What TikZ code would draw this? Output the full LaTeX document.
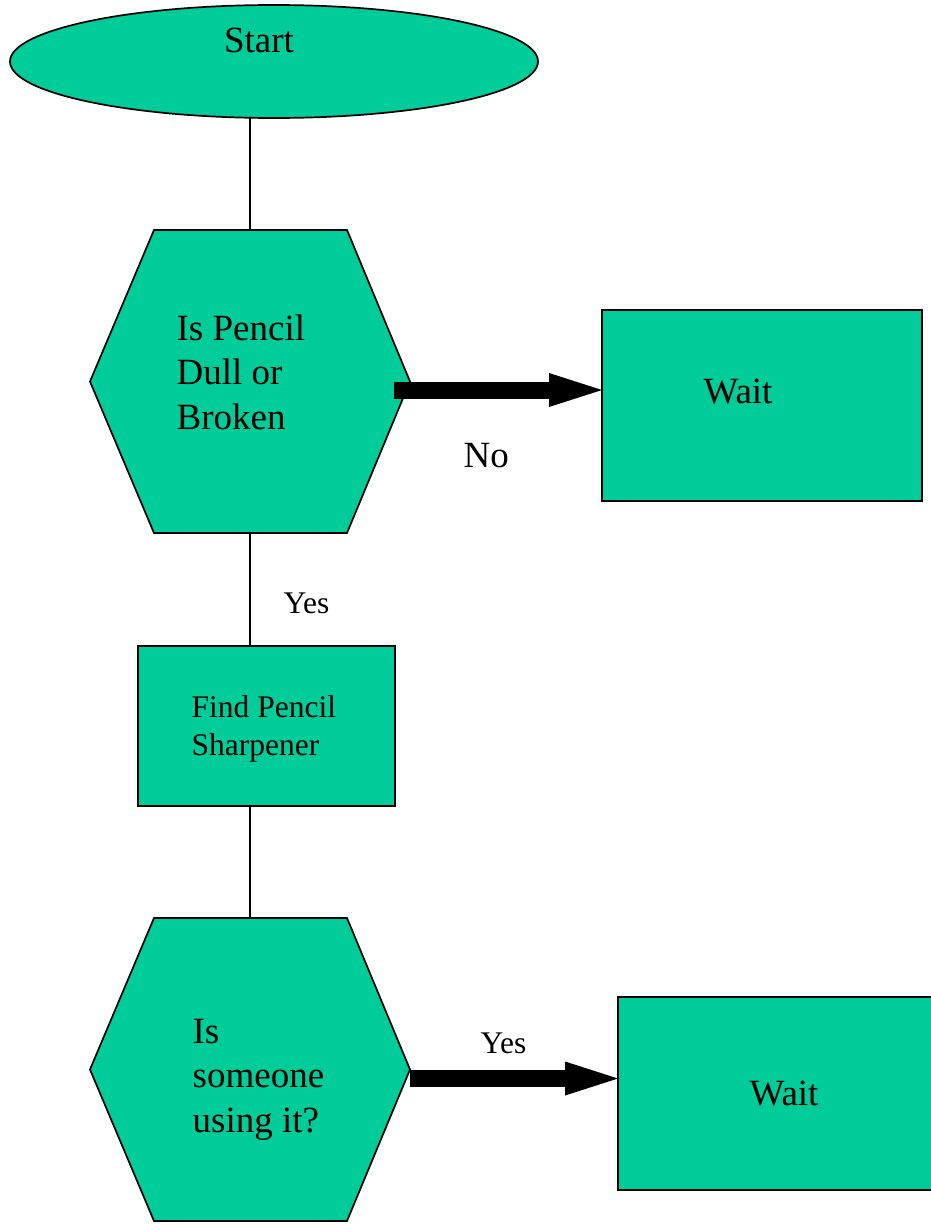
\documentclass[tikz,border=0pt]{standalone}
\usepackage{fontspec}
\setmainfont{Liberation Serif}
\usetikzlibrary{shapes.geometric,arrows.meta,positioning,calc}
\definecolor{flowgreen}{RGB}{0,204,153}

\begin{document}
\begin{tikzpicture}[x=1pt,y=-1pt,line width=1.3pt,
    main node/.style={draw=black,fill=flowgreen,line width=1.7pt,inner sep=0pt,outer sep=0pt},
    hex node/.style={rectangle,inner sep=0pt,outer sep=0pt,minimum width=320pt,minimum height=303pt},
    big text/.style={font={\fontsize{37}{44.5}\selectfont},inner sep=0pt},
    small text/.style={font={\fontsize{31.5}{38}\selectfont},inner sep=0pt},
    big arrow/.style={line width=17pt,-{Triangle[length=53pt,width=34pt,line width=0pt]}}]

            \useasboundingbox (0,0) rectangle (931,1226);
            \clip (0,0) rectangle (931,1226);

            % start
            \node[main node,ellipse,minimum width=528pt,minimum height=113pt] (start) at (274,61.5) {};
            \node[big text,anchor=base] (startlbl) at (259,52) {Start};

            % first question
            \node[hex node] (q1) at (250,381.5) {};
            \draw[main node] (q1.west) -- ($(q1.north west)+(64,0)$) -- ($(q1.north east)+(-63,0)$)
                -- (q1.east) -- ($(q1.south east)+(-63,0)$) -- ($(q1.south west)+(64,0)$) -- cycle;
            \node[big text,anchor=base west,align=left] (q1lbl) at (176,429) {Is Pencil\\Dull or\\Broken};

            \node[main node,minimum width=320pt,minimum height=191pt] (w1) at (762,405.5) {};
            \node[big text,anchor=base] (w1lbl) at (738,403) {Wait};

            % find the sharpener
            \node[main node,minimum width=257pt,minimum height=160pt] (f1) at (266.5,726) {};
            \node[small text,anchor=base west,align=left] (f1lbl) at (191,755) {Find Pencil\\Sharpener};

            % second question
            \node[hex node] (q2) at (250,1069.5) {};
            \draw[main node] (q2.west) -- ($(q2.north west)+(64,0)$) -- ($(q2.north east)+(-63,0)$)
                -- (q2.east) -- ($(q2.south east)+(-63,0)$) -- ($(q2.south west)+(64,0)$) -- cycle;
            \node[big text,anchor=base west,align=left] (q2lbl) at (192,1132) {Is\\someone\\using it?};

            \node[main node,big text,minimum width=332pt,minimum height=193pt] (w2) at (784,1093.5) {Wait};

            % connectors
            \draw (q1.north) -- (q1.north |- start.south);
            \draw (q1.south) -- (q1.south |- f1.north);
            \draw (f1.south -| q2.north) -- (q2.north);

            \coordinate (n1) at (394,390);
            \draw[big arrow] (n1) -- (n1 -| w1.west);
            \node[big text,anchor=base west] (nolbl) at (463,467) {No};

            \coordinate (y2) at ($(q2.east)+(0,9)$);
            \draw[big arrow] (y2) -- (y2 -| w2.west);

            \node[small text,anchor=base west] (yes1) at (283,613) {Yes};
            \node[small text,anchor=base west] (yes2) at (480,1053) {Yes};
        \end{tikzpicture}
\end{document}
